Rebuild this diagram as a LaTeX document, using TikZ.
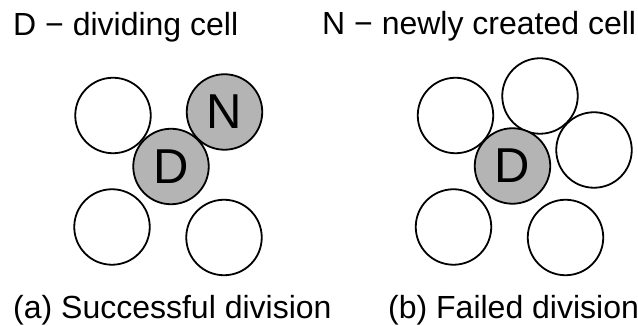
\documentclass[tikz,border=0pt]{standalone}
\usepackage{fontspec}
\setmainfont{Liberation Sans}
\begin{document}
\begin{tikzpicture}[x=1pt,y=1pt,
  cell/.style={circle,draw=black,line width=1.8pt,minimum size=75.5pt,inner sep=0pt,fill=white,
    font=\fontsize{49}{55}\selectfont},
  active/.style={cell,fill={rgb,255:red,180;green,180;blue,180}},
  lbl/.style={anchor=base west,inner sep=0pt,font=\fontsize{32}{38}\selectfont}]
\useasboundingbox (0,0) rectangle (638,326);
% legend
\node[lbl] (legD) at (13,290) {D − dividing cell};
\node[lbl] (legN) at (322,291) {N − newly created cell};
% (a)
\node[cell] (aTL) at (113,210.5) {};
\node[cell] (aBL) at (112,99) {};
\node[cell] (aBR) at (224,88.5) {};
\node[active] (aN) at (224.5,214) {N};
\node[active] (aD) at (171,159.5) {D};
% (b)
\node[cell] (bTL) at (455.5,210.5) {};
\node[cell] (bT) at (540,230) {};
\node[cell] (bR) at (594,176) {};
\node[cell] (bBL) at (453.5,99) {};
\node[cell] (bBR) at (565.5,88.5) {};
\node[active] (bD) at (512.5,160) {D};
% captions
\node[lbl] (capA) at (13,7) {(a) Successful division};
\node[lbl] (capB) at (388,7) {(b) Failed division};
\end{tikzpicture}
\end{document}
